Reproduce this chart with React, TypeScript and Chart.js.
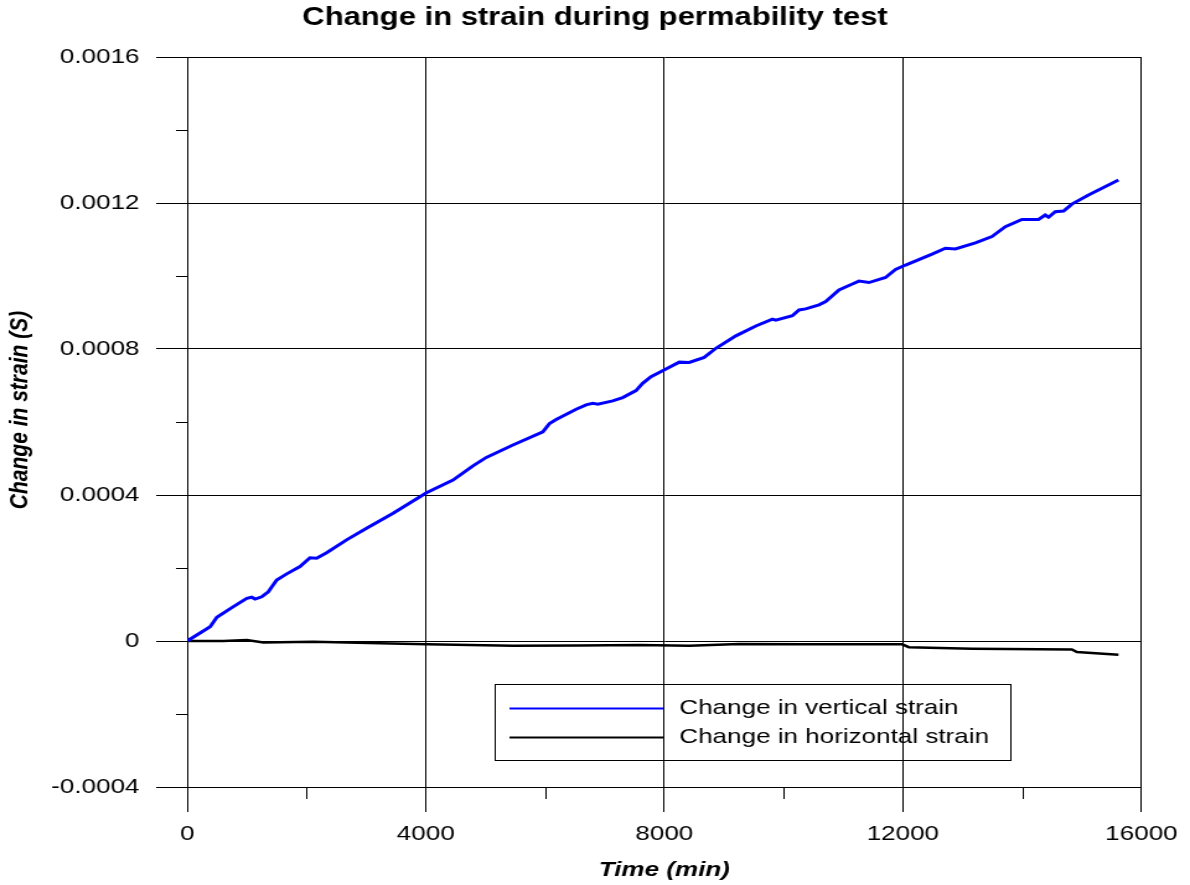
import { useEffect, useRef } from "react";
import { Chart, registerables } from "chart.js";

Chart.register(...registerables);

// Elapsed time (min) and change in vertical strain
const vertTime = [
  0, 385, 497, 775, 999, 1083, 1138, 1250, 1360, 1501, 1669, 1891, 2059, 2171, 2338,
  2673, 3008, 3453, 4012, 4457, 4792, 5016, 5462, 5964, 6075, 6187, 6522, 6689, 6800,
  6884, 7135, 7302, 7525, 7637, 7777, 8028, 8251, 8418, 8669, 8865, 9200, 9535, 9813,
  9869, 10147, 10259, 10371, 10594, 10706, 10929, 11153, 11264, 11431, 11710, 11877,
  12045, 12490, 12713, 12880, 13216, 13494, 13718, 13996, 14275, 14387, 14443, 14555,
  14695, 14834, 15113, 15615,
];
const vertStrain = [
  0, 0.000039, 0.000065, 0.000094, 0.000117, 0.00012, 0.000115, 0.000121, 0.000135,
  0.000167, 0.000184, 0.000204, 0.000228, 0.000227, 0.000242, 0.000277, 0.000309,
  0.00035, 0.000406, 0.000441, 0.00048, 0.000503, 0.000537, 0.000573, 0.000596,
  0.000607, 0.000635, 0.000647, 0.000651, 0.000649, 0.000658, 0.000667, 0.000686,
  0.000706, 0.000724, 0.000745, 0.000764, 0.000763, 0.000777, 0.000802, 0.000836,
  0.000863, 0.000882, 0.000879, 0.000891, 0.000907, 0.00091, 0.000921, 0.00093,
  0.000962, 0.000978, 0.000986, 0.000982, 0.000996, 0.001018, 0.00103, 0.00106,
  0.001076, 0.001074, 0.001091, 0.001108, 0.001135, 0.001155, 0.001155, 0.001167,
  0.001161, 0.001176, 0.001178, 0.001197, 0.001222, 0.001263,
];

// Elapsed time (min) and change in horizontal strain
const horTime = [
  0, 608, 999, 1277, 2114, 3230, 4012, 5462, 6578, 7581, 8418, 9255, 10371, 11988,
  12100, 13160, 14834, 14918, 15615,
];
const horStrain = [
  0, 0, 0.0000027, -0.000004, -0.000002, -0.000006, -0.000009, -0.000013, -0.000012,
  -0.000011, -0.000013, -0.000008, -0.000009, -0.000009, -0.000017, -0.000021,
  -0.000023, -0.00003, -0.000038,
];

const seriesNames = ["Change in vertical strain", "Change in horizontal strain"];
const seriesColors = ["#0000ff", "#000000"];

const chartTitle = "Change in strain during permability test";
const xAxisTitle = "Time (min)";
const yAxisTitle = "Change in strain (S)";

// Unlabelled minor tick positions on each axis
const xMinorTicks = [2000, 6000, 10000, 14000];
const yMinorTicks = [0.0014, 0.001, 0.0006, 0.0002, -0.0002];

const FONT = '"Liberation Sans", Arial, Helvetica, sans-serif';

// Title centred on the whole canvas, plus the rotated y-axis caption
const captions = {
  id: "captions",
  afterDraw(chart: any) {
    const { ctx } = chart;
    ctx.save();
    ctx.fillStyle = "#000";
    ctx.textAlign = "center";
    ctx.textBaseline = "middle";
    ctx.font = `bold 25px ${FONT}`;
    ctx.fillText(chartTitle, chart.width / 2, 18);
    ctx.translate(16, 410);
    ctx.rotate(-Math.PI / 2);
    ctx.font = `italic bold 21px ${FONT}`;
    ctx.fillText(yAxisTitle, 0, 0);
    ctx.restore();
  },
};

const minorTicks = {
  id: "minorTicks",
  afterDraw(chart: any) {
    const { ctx, chartArea, scales } = chart;
    ctx.save();
    ctx.strokeStyle = "#000";
    ctx.lineWidth = 1;
    ctx.beginPath();
    xMinorTicks.forEach((v) => {
      const x = Math.round(scales.x.getPixelForValue(v)) + 0.5;
      ctx.moveTo(x, chartArea.bottom);
      ctx.lineTo(x, chartArea.bottom + 12);
    });
    yMinorTicks.forEach((v) => {
      const y = Math.round(scales.y.getPixelForValue(v)) + 0.5;
      ctx.moveTo(chartArea.left, y);
      ctx.lineTo(chartArea.left - 9, y);
    });
    ctx.stroke();
    ctx.restore();
  },
};

const legendBox = {
  id: "legendBox",
  afterDraw(chart: any) {
    const { ctx, chartArea } = chart;
    const left = Math.round(chartArea.left + 248);
    const top = Math.round(chartArea.top + 627);
    const w = 416;
    const h = 76;
    ctx.save();
    ctx.strokeStyle = "#000";
    ctx.lineWidth = 1;
    ctx.strokeRect(left + 0.5, top + 0.5, w, h);
    ctx.font = `21px ${FONT}`;
    ctx.textBaseline = "middle";
    ctx.textAlign = "left";
    chart.data.datasets.forEach((ds: any, i: number) => {
      const y = top + 24.5 + i * 29;
      ctx.strokeStyle = ds.borderColor;
      ctx.lineWidth = 2;
      ctx.beginPath();
      ctx.moveTo(left + 12, y);
      ctx.lineTo(left + 136, y);
      ctx.stroke();
      ctx.fillStyle = "#000";
      ctx.fillText(ds.label, left + 149, y);
    });
    ctx.restore();
  },
};

export default function App() {
  const canvasRef = useRef<HTMLCanvasElement | null>(null);

  useEffect(() => {
    if (!canvasRef.current) return;
    const chart = new Chart(canvasRef.current, {
      type: "line",
      data: {
        datasets: [
          {
            label: seriesNames[0],
            data: vertTime.map((t, i) => ({ x: t, y: vertStrain[i] })),
            borderColor: seriesColors[0],
            borderWidth: 3,
            pointRadius: 0,
            tension: 0,
            fill: false,
          },
          {
            label: seriesNames[1],
            data: horTime.map((t, i) => ({ x: t, y: horStrain[i] })),
            borderColor: seriesColors[1],
            borderWidth: 2.5,
            pointRadius: 0,
            tension: 0,
            fill: false,
          },
        ],
      },
      options: {
        responsive: false,
        animation: false,
        devicePixelRatio: 1,
        events: [],
        layout: { padding: { left: 0, right: 38, top: 57, bottom: 0 } },
        plugins: {
          legend: { display: false },
          tooltip: { enabled: false },
          title: { display: false },
        },
        scales: {
          x: {
            type: "linear",
            min: 0,
            max: 16000,
            afterFit: (scale: any) => {
              scale.height = 98;
            },
            ticks: {
              stepSize: 4000,
              color: "#000",
              padding: 10,
              maxRotation: 0,
              font: { family: FONT, size: 21 },
              callback: (v: any) => String(v),
            },
            grid: { color: "#000", lineWidth: 1, drawTicks: true, tickLength: 25, tickColor: "#000" },
            border: { display: true, color: "#000", width: 1 },
            title: {
              display: true,
              text: xAxisTitle,
              color: "#000",
              font: { family: FONT, size: 21, weight: "bold", style: "italic" },
              padding: { top: 0, bottom: 2 },
            },
          },
          y: {
            type: "linear",
            min: -0.0004,
            max: 0.0016,
            afterFit: (scale: any) => {
              scale.width = 151;
            },
            ticks: {
              stepSize: 0.0004,
              color: "#000",
              padding: 13.5,
              font: { family: FONT, size: 21 },
              callback: (v: any) => String(Number(Number(v).toFixed(4))),
            },
            grid: { color: "#000", lineWidth: 1, drawTicks: true, tickLength: 25, tickColor: "#000" },
            border: { display: true, color: "#000", width: 1 },
            title: { display: false },
          },
        },
      },
      plugins: [minorTicks, legendBox, captions],
    });
    return () => chart.destroy();
  }, []);

  return (
    <div style={{ position: "absolute", left: 0, top: 0, width: 1190, height: 885, background: "#fff" }}>
      <canvas
        ref={canvasRef}
        width={960}
        height={885}
        style={{ width: "1190px", height: "885px", display: "block" }}
      />
    </div>
  );
}
